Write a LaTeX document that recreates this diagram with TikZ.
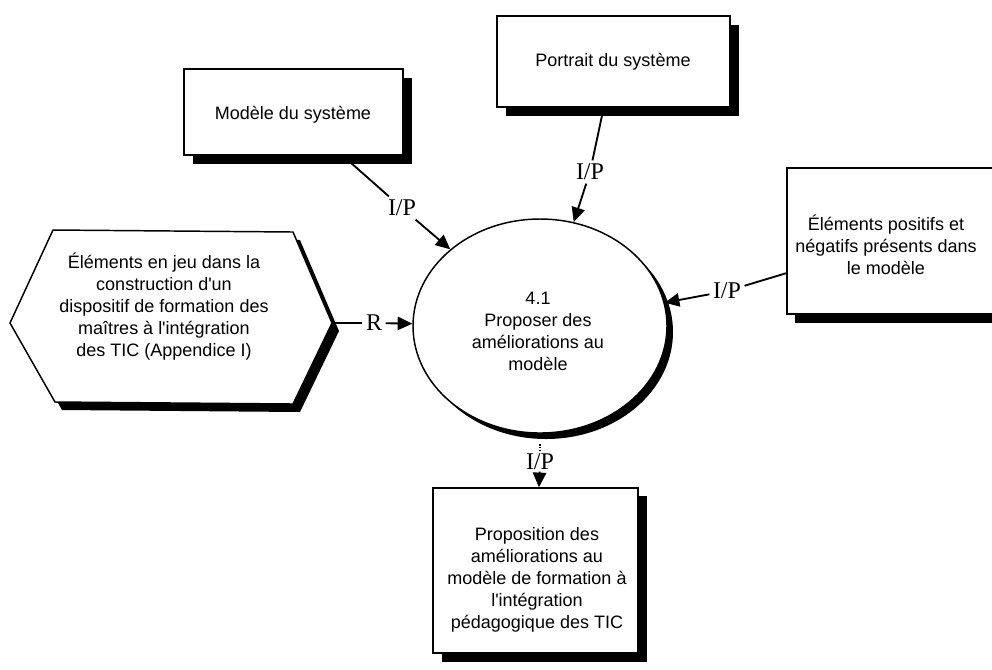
\documentclass[tikz,border=0pt]{standalone}
\usepackage{fontspec}
\setmainfont{Liberation Sans}[Ligatures=TeXOff]
\newfontfamily\labfont{Liberation Serif}
\usetikzlibrary{arrows.meta,shapes.geometric}
\begin{document}
\begin{tikzpicture}[x=0.75pt,y=-0.75pt,
  boxtext/.style={font=\fontsize{13.5}{16.5}\selectfont, align=center, inner sep=0pt},
  outline/.style={draw=black, line width=1.1pt, fill=white},
  shadowfill/.style={fill=black},
  rectbox/.style={outline, rectangle, inner sep=0pt},
  lab/.style={font=\labfont\fontsize{18}{18}\selectfont, inner sep=2.5pt},
  conn/.style={line width=1.4pt},
  arr/.style={conn, -{Triangle[length=11pt,width=10pt]}}]
\useasboundingbox (0,0) rectangle (992,669);

% ---- shadows ----
\fill[shadowfill] (193,78) rectangle (412,164);
\fill[shadowfill] (506,25) rectangle (739,116);
\fill[shadowfill] (795,177) rectangle (1008,323);
\fill[shadowfill] (442,496) rectangle (647,662);
\fill[shadowfill] (17,331) -- (60,238) -- (300,240) -- (339,331) -- (300,412) -- (62,410) -- cycle;
\fill[shadowfill] (546,332) ellipse [x radius=95.25pt, y radius=80.25pt];

% ---- boxes ----
\node[rectbox, minimum width=164.25pt, minimum height=64.5pt] (mod) at (293.5,112) {};
\node[boxtext] (modt) at (293,115) {Modèle du système};

\node[rectbox, minimum width=174.75pt, minimum height=68.25pt] (por) at (613.5,61.5) {};
\node[boxtext] (port) at (613,62) {Portrait du système};

\node[rectbox, minimum width=159.75pt, minimum height=109.5pt] (pos) at (893.5,241) {};
\node[boxtext] (post) at (886,245) {Éléments positifs et\\négatifs présents dans\\le modèle};

\node[rectbox, minimum width=153.75pt, minimum height=123.75pt] (out) at (535.5,570.5) {};
\node[boxtext] (outt) at (537,580) {Proposition des\\améliorations au\\modèle de formation à\\l'intégration\\pédagogique des TIC};

% hexagon
\draw[outline] (10,323) -- (53,230) -- (293,232) -- (332,323) -- (293,404) -- (55,402) -- cycle;
\node[boxtext] (hext) at (164,307) {Éléments en jeu dans la\\construction d'un\\dispositif de formation des\\maîtres à l'intégration\\des TIC (Appendice I)};
\coordinate (hexR) at (332,323);

% process
\node[ellipse, outline, inner sep=0pt, minimum width=190.5pt, minimum height=160.5pt] (circ) at (540,326) {};
\node[boxtext] (circt) at (538,331) {4.1\\Proposer des\\améliorations au\\modèle};

% ---- labels ----
\node[lab] (l1) at (402,208) {I/P};
\node[lab] (l2) at (590,172) {I/P};
\node[lab] (l3) at (727,291) {I/P};
\node[lab] (l4) at (374,323) {R};
\node[lab, inner sep=1pt] (l5) at (540,462) {I/P};

% ---- connectors ----
\draw[conn] (mod) -- (l1);
\draw[arr] (l1) -- (circ);
\draw[conn] (por) -- (l2);
\draw[arr] (l2) -- (circ);
\draw[conn] (pos) -- (l3);
\draw[arr] (l3) -- (circ);
\draw[conn] (hexR) -- (l4);
\draw[arr] (l4) -- (circ);
\draw[line width=1pt, densely dotted, shorten <=8pt] (circ.south) -- (l5);
\draw[arr] (l5) -- (out);
\end{tikzpicture}
\end{document}
